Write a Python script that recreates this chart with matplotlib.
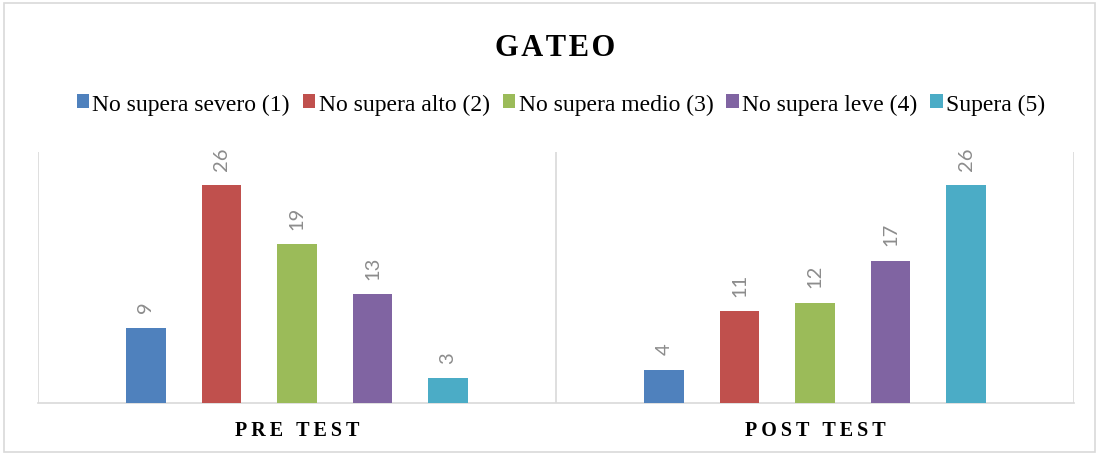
import matplotlib
matplotlib.use("Agg")
import matplotlib.pyplot as plt
from matplotlib.patches import Rectangle
import numpy as np

categories = ["PRE TEST", "POST TEST"]
series = ["No supera severo (1)", "No supera alto (2)", "No supera medio (3)",
          "No supera leve (4)", "Supera (5)"]
values = {
    "No supera severo (1)": [9, 4],
    "No supera alto (2)": [26, 11],
    "No supera medio (3)": [19, 12],
    "No supera leve (4)": [13, 17],
    "Supera (5)": [3, 26],
}
colors = ["#4f81bd", "#c0504d", "#9bbb59", "#8064a2", "#4bacc6"]
title = "GATEO"

def spaced(s, sp="\u2009"):
    return sp.join(list(s))

fig = plt.figure(figsize=(10.99, 4.56), dpi=100)
fig.patches.append(Rectangle((4/1099, 3/456), 1091/1099, 449/456, transform=fig.transFigure,
                             fill=False, edgecolor="#d9d9d9", linewidth=1.2))
ax = fig.add_axes([38/1099, 1-404/456, (1074-38)/1099, (404-153)/456])

x = np.arange(len(categories)) + 0.5
step = 0.1458
width = 0.077
for i, s in enumerate(series):
    pos = x + (i - 2) * step
    bars = ax.bar(pos, values[s], width=width, color=colors[i], label=s, zorder=3)
    for b, v in zip(bars, values[s]):
        ax.annotate(str(v), (b.get_x() + b.get_width()/2, v), xytext=(0, 11),
                    textcoords="offset points", rotation=90,
                    ha="center", va="bottom", color="#8c8c8c", fontsize=14.5,
                    family="Lato")

ax.set_xlim(0, len(categories))
ax.set_ylim(0, 30)
for xv in range(len(categories) + 1):
    ax.axvline(xv, color="#d9d9d9", linewidth=1.2, zorder=1)
for sp in ["top", "left", "right"]:
    ax.spines[sp].set_visible(False)
ax.spines["bottom"].set_color("#d9d9d9")
ax.spines["bottom"].set_linewidth(1.2)
ax.set_yticks([])
ax.set_xticks(x)
ax.set_xticklabels([spaced(c) for c in categories], family="Liberation Serif",
                   fontweight="bold", fontsize=14.5)
ax.tick_params(axis="x", length=0, pad=12)

fig.text(555/1099, 1-48/456, spaced(title, "\u200a"), ha="center", va="center",
         family="Liberation Serif", fontweight="bold", fontsize=22)

leg = fig.legend(loc="center", bbox_to_anchor=(561/1099, 1-105/456), ncol=5,
                 frameon=False, prop={"family": "Liberation Serif", "size": 17},
                 handlelength=0.52, handleheight=0.5, handletextpad=0.15,
                 columnspacing=0.55, borderaxespad=0)

fig.savefig("out.png", dpi=100)
